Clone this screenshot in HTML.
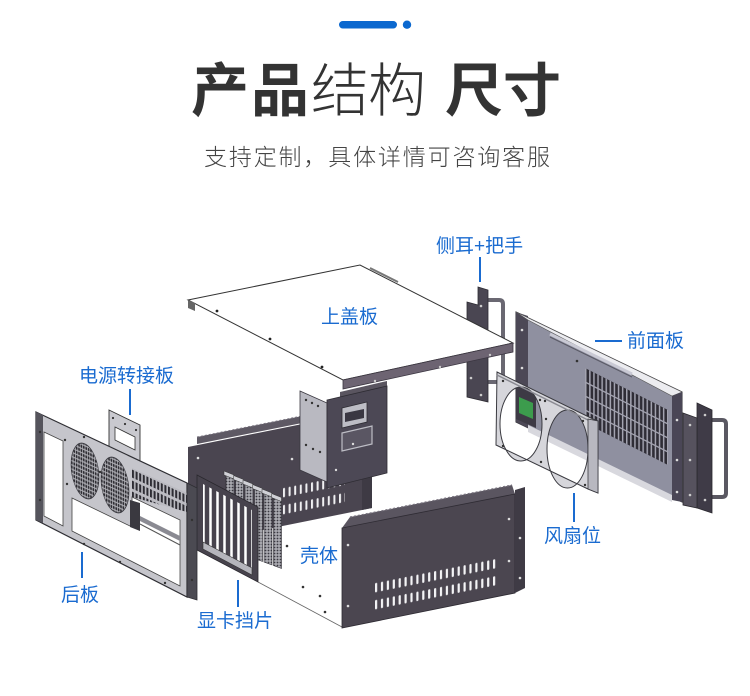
<!DOCTYPE html>
<html><head><meta charset="utf-8">
<style>
html,body{margin:0;padding:0;background:#fff;}
body{width:750px;height:696px;overflow:hidden;position:relative;}
svg{position:absolute;left:0;top:0;}
</style></head><body>
<svg width="750" height="696" viewBox="0 0 750 696" xmlns="http://www.w3.org/2000/svg">
<defs>
 <pattern id="hex" x="0" y="0" width="4.6" height="4.2" patternUnits="userSpaceOnUse">
   <rect width="4.6" height="4.2" fill="#a8a8ae"/>
   <circle cx="2.3" cy="2.1" r="1.6" fill="#2c2b31"/>
 </pattern>
 <pattern id="card" x="0" y="0" width="3" height="3" patternUnits="userSpaceOnUse">
   <rect width="3" height="3" fill="#a9a9b0"/>
   <circle cx="1.5" cy="1.5" r="0.9" fill="#3a3940"/>
 </pattern>
 <pattern id="slF" x="375" y="12" width="5.9" height="17" patternUnits="userSpaceOnUse" patternTransform="skewY(-11.3)">
   <rect x="0" y="0" width="2.2" height="9.5" rx="1.1" fill="#f4f4f6"/>
 </pattern>
 <pattern id="slB" x="283" y="0.6" width="5.6" height="17" patternUnits="userSpaceOnUse" patternTransform="skewY(-11.3)">
   <rect x="0" y="0" width="2" height="9.5" rx="1" fill="#f0f0f2"/>
 </pattern>
 <pattern id="grid" x="585" y="0" width="4.1" height="10" patternUnits="userSpaceOnUse">
   <rect x="0" y="0" width="1.5" height="10" fill="#a3a3b0"/>
 </pattern>
 <pattern id="slR" x="132" y="0" width="3.6" height="11" patternUnits="userSpaceOnUse" patternTransform="skewY(25)">
   <rect x="0" y="1" width="2" height="8" fill="#2d2c33"/>
 </pattern>
</defs>

<!-- header bar -->
<rect x="339" y="21" width="58" height="7.5" rx="3.75" fill="#0b68cf"/>
<circle cx="407" cy="24.7" r="4.2" fill="#0b68cf"/>

<!-- title -->
<g font-family="'Noto Sans CJK SC','WenQuanYi Zen Hei',sans-serif" font-size="58" fill="#333">
 <text x="191" y="111" font-weight="700">产</text>
 <text x="251" y="111" font-weight="700">品</text>
 <text x="311" y="111" font-weight="300">结</text>
 <text x="368" y="111" font-weight="300">构</text>
 <text x="445" y="111" font-weight="700">尺</text>
 <text x="503" y="111" font-weight="700">寸</text>
</g>
<text x="204" y="165" font-family="'Liberation Sans','Noto Sans CJK SC',sans-serif" font-weight="300" font-size="23" fill="#444" textLength="346" lengthAdjust="spacing">支持定制，具体详情可咨询客服</text>

<!-- ===== back side wall of shell ===== -->
<polygon points="188,447 372,410 372,508 188,545" fill="#4a4550"/>
<polygon points="197,437 372,402 372,409 197,444" fill="#5e5964"/>
<line x1="197" y1="437" x2="372" y2="402" stroke="#7a7580" stroke-width="1" stroke-dasharray="2,2"/>
<polygon points="280,486 345,473 345,507 280,520" fill="url(#slB)"/>
<polygon points="362,470 372,468 372,508 362,510" fill="#3e3a44"/>
<circle cx="198" cy="458" r="1.3" fill="#ddd"/><circle cx="292" cy="459" r="1.3" fill="#ddd"/>

<!-- ===== drive bracket ===== -->
<polygon points="340,392 387,381 387,388 340,399" fill="#5a5560"/>
<polygon points="300,391 327,403 327,482 300,470" fill="#b9b9c1" stroke="#3a3840" stroke-width="0.8"/>
<polygon points="327,400 387,386 387,473 327,488" fill="#4c4855" stroke="#2e2c33" stroke-width="0.8"/>
<polygon points="342,408 367,402 367,422 342,428" fill="#bdbdc5" stroke="#2e2c33" stroke-width="0.8"/>
<polygon points="345,413 364,409 364,418 345,422" fill="#3a3742"/>
<polygon points="342,433 372,426 372,444 342,451" fill="#5a5663" stroke="#bdbdc5" stroke-width="1.2"/>
<g fill="#333"><circle cx="306" cy="400" r="1.2"/><circle cx="312" cy="403" r="1.2"/><circle cx="318" cy="406" r="1.2"/><circle cx="306" cy="445" r="1.2"/><circle cx="313" cy="449" r="1.2"/><circle cx="320" cy="452" r="1.2"/></g>
<g fill="#ddd"><circle cx="336" cy="470" r="1.2"/><circle cx="353" cy="444" r="1.2"/></g>

<!-- ===== left ear + handle ===== -->
<path d="M488,300 H499 Q503,300 503,304 V378 Q503,382 499,382 H488" fill="none" stroke="#6a6872" stroke-width="4"/>
<polygon points="478,287 488,290 488,402 467,397 467,302 478,305" fill="#4a4652" stroke="#2e2c33" stroke-width="0.8"/>
<circle cx="481" cy="306" r="1.3" fill="#ccc"/><circle cx="471" cy="378" r="1.3" fill="#ccc"/><circle cx="481" cy="395" r="1.3" fill="#ccc"/>

<!-- ===== top cover ===== -->
<polygon points="188,300 360,265 513,343 343,380" fill="#ffffff" stroke="#333" stroke-width="1"/>
<polygon points="343,380 513,343 513,352 343,389" fill="#6d6472" stroke="#3a3540" stroke-width="0.8"/>
<polygon points="188,300 195,303 195,311 188,308" fill="#666"/>
<polyline points="370,268 398,282" stroke="#777" stroke-width="2" fill="none"/>
<g fill="#222"><circle cx="217" cy="311" r="1.4"/><circle cx="270" cy="339" r="1.4"/><circle cx="322" cy="367" r="1.4"/></g>
<g fill="#ccc"><circle cx="375" cy="381" r="1.2"/><circle cx="440" cy="367" r="1.2"/><circle cx="490" cy="355" r="1.2"/></g>

<!-- ===== front panel ===== -->
<polygon points="516,312 682,392 682,502 516,422" fill="#8f90a0" stroke="#2e2c33" stroke-width="1"/>
<polygon points="516,312 528,316 528,428 516,422" fill="#4c4856"/>
<polygon points="516,312 682,392 672,396 528,320" fill="#ececf0" stroke="#555" stroke-width="0.6"/>
<polygon points="672,396 682,392 682,502 672,500" fill="#4a4656"/>
<polygon points="528,425 672,495 672,502 528,432" fill="#d8d8de"/>
<line x1="550" y1="334" x2="632" y2="374" stroke="#c9c9d4" stroke-width="3"/>
<line x1="550" y1="337" x2="632" y2="377" stroke="#5a5a66" stroke-width="1"/>
<polygon points="585,368 668,410 668,465 585,423" fill="#2f2d36"/>
<polygon points="585,368 668,410 668,465 585,423" fill="url(#grid)"/>
<g stroke="#a3a3b0" stroke-width="1.3"><line x1="585" y1="382" x2="668" y2="424"/><line x1="585" y1="396" x2="668" y2="438"/><line x1="585" y1="410" x2="668" y2="452"/></g>
<g fill="#ddd"><circle cx="522" cy="330" r="1.3"/><circle cx="522" cy="368" r="1.3"/><circle cx="677" cy="420" r="1.3"/><circle cx="677" cy="460" r="1.3"/><circle cx="677" cy="492" r="1.3"/></g>
<circle cx="577" cy="361" r="1.3" fill="#333"/>

<!-- cavity behind left fan hole -->
<polygon points="516,383 536,392 536,428 516,419" fill="#3d3a45"/>
<polygon points="519,397 533,403 533,419 519,413" fill="#3c9c4d"/>

<!-- ===== fan bracket (with holes) ===== -->
<path fill-rule="evenodd" fill="#d6d6db" stroke="#3a3a40" stroke-width="1"
 d="M497,372 L593,419 L598,421 L598,493 L588,489 L496,445 Z
    M500,424 a21,37 0 1,0 42,0 a21,37 0 1,0 -42,0 Z
    M547,449 a20.5,39 0 1,0 41,0 a20.5,39 0 1,0 -41,0 Z"/>
<line x1="497" y1="375" x2="592" y2="422" stroke="#8a8a92" stroke-width="1.5"/>
<polygon points="588,419 598,421 598,493 588,489" fill="#b8b8c0" stroke="#3a3a40" stroke-width="0.8"/>
<g fill="#333"><circle cx="503" cy="381" r="1.2"/><circle cx="545" cy="401" r="1.2"/><circle cx="583" cy="421" r="1.2"/><circle cx="541" cy="462" r="1.2"/><circle cx="503" cy="446" r="1.2"/><circle cx="585" cy="485" r="1.2"/><circle cx="546" cy="419" r="1.2"/><circle cx="540" cy="400" r="1.2"/></g>

<!-- ===== right ear + handle ===== -->
<path d="M712,420 H722 Q726,420 726,424 V493 Q726,497 722,497 H712" fill="none" stroke="#5a5862" stroke-width="4"/>
<polygon points="697,403 712,410 712,513 697,508" fill="#3f3b47" stroke="#2a282e" stroke-width="0.8"/>
<polygon points="683,413 697,418 697,508 683,505" fill="#56525e" stroke="#2a282e" stroke-width="0.8"/>
<g fill="#ccc"><circle cx="690" cy="425" r="1.3"/><circle cx="690" cy="460" r="1.3"/><circle cx="690" cy="495" r="1.3"/><circle cx="705" cy="415" r="1.3"/><circle cx="705" cy="500" r="1.3"/></g>

<!-- ===== bottom plate outline ===== -->
<line x1="258" y1="582" x2="342" y2="627" stroke="#666" stroke-width="0.8"/>
<g fill="#333"><circle cx="287" cy="546" r="1.3"/><circle cx="303" cy="587" r="1.3"/><circle cx="320" cy="596" r="1.3"/><circle cx="325" cy="612" r="1.3"/></g>

<!-- ===== front side wall ===== -->
<polygon points="350,517 512,485 515,494 342,528" fill="#5a5560"/>
<line x1="350" y1="517" x2="512" y2="485" stroke="#7a7580" stroke-width="1.2" stroke-dasharray="2,2"/>
<polygon points="342,528 515,494 515,593 342,628" fill="#4b4650" stroke="#2e2b33" stroke-width="0.8"/>
<polygon points="373,581 496,556 496,589 373,614" fill="url(#slF)"/>
<polygon points="515,490 525,487 525,588 515,593" fill="#3f3b45"/>
<g fill="#ddd"><circle cx="348" cy="545" r="1.3"/><circle cx="348" cy="606" r="1.3"/><circle cx="509" cy="519" r="1.3"/><circle cx="509" cy="561" r="1.3"/><circle cx="520" cy="538" r="1.3"/><circle cx="520" cy="578" r="1.3"/></g>

<!-- ===== graphics cards ===== -->
<g fill="url(#card)" stroke="#2e2c33" stroke-width="0.6">
 <polygon points="226,473 234,477 234,551 226,548"/>
 <polygon points="235.5,477.5 243.5,481 243.5,555 235.5,551.5"/>
 <polygon points="245,482 253,485.5 253,558 245,555"/>
 <polygon points="254.5,486.5 262.5,490 262.5,561.5 254.5,558.5"/>
 <polygon points="264,491 272,494.5 272,565 264,562"/>
 <polygon points="273.5,495.5 281.5,499 281.5,568.5 273.5,565.5"/>
</g>
<g fill="#d0d0d6" stroke="#333" stroke-width="0.5">
 <polygon points="224,471 234,475 234,479 224,475"/>
 <polygon points="233.5,475.5 243.5,479.5 243.5,483.5 233.5,479.5"/>
 <polygon points="243,480 253,484 253,488 243,484"/>
 <polygon points="252.5,484.5 262.5,488.5 262.5,492.5 252.5,488.5"/>
 <polygon points="262,489 272,493 272,497 262,493"/>
 <polygon points="271.5,493.5 281.5,497.5 281.5,501.5 271.5,497.5"/>
</g>

<!-- card bracket frame -->
<polygon points="197,475 258,507 258,582 197,550" fill="#47434d" stroke="#2a282e" stroke-width="0.8"/>
<polygon points="203,484 252,510 252,568 203,542" fill="#ffffff"/>
<g stroke="#47434d" stroke-width="4.5">
 <line x1="207" y1="484" x2="207" y2="545"/><line x1="214" y1="488" x2="214" y2="549"/><line x1="221" y1="492" x2="221" y2="552"/><line x1="228" y1="495" x2="228" y2="556"/><line x1="235" y1="499" x2="235" y2="560"/><line x1="242" y1="503" x2="242" y2="564"/><line x1="249" y1="507" x2="249" y2="568"/>
</g>
<polygon points="203,542 252,568 252,575 203,549" fill="#b5b5bc" stroke="#333" stroke-width="0.6"/>

<!-- ===== power adapter plate ===== -->
<polygon points="109,410 140,425 140,462 109,447" fill="#c9c9cf" stroke="#333" stroke-width="0.9"/>
<polygon points="115,427 135,437 135,450 115,440" fill="#fff" stroke="#333" stroke-width="0.8"/>
<g fill="#333"><circle cx="113" cy="418" r="1.1"/><circle cx="125" cy="424" r="1.1"/><circle cx="136" cy="430" r="1.1"/></g>

<!-- ===== rear panel ===== -->
<polygon points="36,412 187,483 187,597 36,520" fill="#c5c5cb" stroke="#2e2e33" stroke-width="1.2"/>
<polygon points="36,412 43,415 43,523 36,520" fill="#55545c"/>
<polygon points="44,432 63,441 63,526 44,516" fill="#fff" stroke="#444" stroke-width="0.8"/>
<polygon points="72,498 132,527 132,497 180,520 180,586 72,531" fill="#fff" stroke="#444" stroke-width="0.8"/>
<polygon points="130,500 140,503 140,531 130,527" fill="#3a3940"/>
<polygon points="140,516 180,536 180,541 140,521" fill="#8a8a92"/>
<line x1="140" y1="524" x2="180" y2="545" stroke="#555" stroke-width="1"/>
<circle r="27" transform="translate(85,471) matrix(0.52,0.24,0,1,0,0)" fill="url(#hex)" stroke="#3a3a40" stroke-width="1"/>
<circle r="27" transform="translate(115,485) matrix(0.52,0.24,0,1,0,0)" fill="url(#hex)" stroke="#3a3a40" stroke-width="1"/>
<polygon points="132,468 187,493 187,512 132,497" fill="#bcbcc2"/>
<polygon points="132,468 187,493 187,512 132,497" fill="url(#slR)"/>
<polygon points="187,483 197,488 197,600 187,597" fill="#4b4a52" stroke="#2e2e33" stroke-width="0.8"/>
<g fill="#333"><circle cx="40" cy="432" r="1.2"/><circle cx="40" cy="500" r="1.2"/><circle cx="65" cy="440" r="1.2"/><circle cx="67" cy="484" r="1.2"/><circle cx="84" cy="437" r="1.2"/><circle cx="100" cy="472" r="1.2"/><circle cx="84" cy="544" r="1.2"/><circle cx="120" cy="562" r="1.2"/><circle cx="165" cy="583" r="1.2"/><circle cx="192" cy="520" r="1.2"/><circle cx="192" cy="580" r="1.2"/></g>

<!-- ===== labels ===== -->
<g stroke="#1a6bd0" stroke-width="2">
 <line x1="480" y1="257" x2="480" y2="282"/>
 <line x1="595" y1="341" x2="622" y2="341"/>
 <line x1="574" y1="493" x2="574" y2="522"/>
 <line x1="130" y1="389" x2="130" y2="415"/>
 <line x1="82" y1="552" x2="82" y2="578"/>
 <line x1="238" y1="580" x2="238" y2="607"/>
</g>
<g font-family="'Liberation Sans','Noto Sans CJK SC',sans-serif" font-size="19" fill="#1a6bd0">
 <text x="436" y="252">侧耳+把手</text>
 <text x="321" y="323">上盖板</text>
 <text x="627" y="347">前面板</text>
 <text x="544" y="542">风扇位</text>
 <text x="79" y="382">电源转接板</text>
 <text x="61" y="601">后板</text>
 <text x="197" y="627">显卡挡片</text>
 <text x="300" y="562">壳体</text>
</g>
</svg>
</body></html>
